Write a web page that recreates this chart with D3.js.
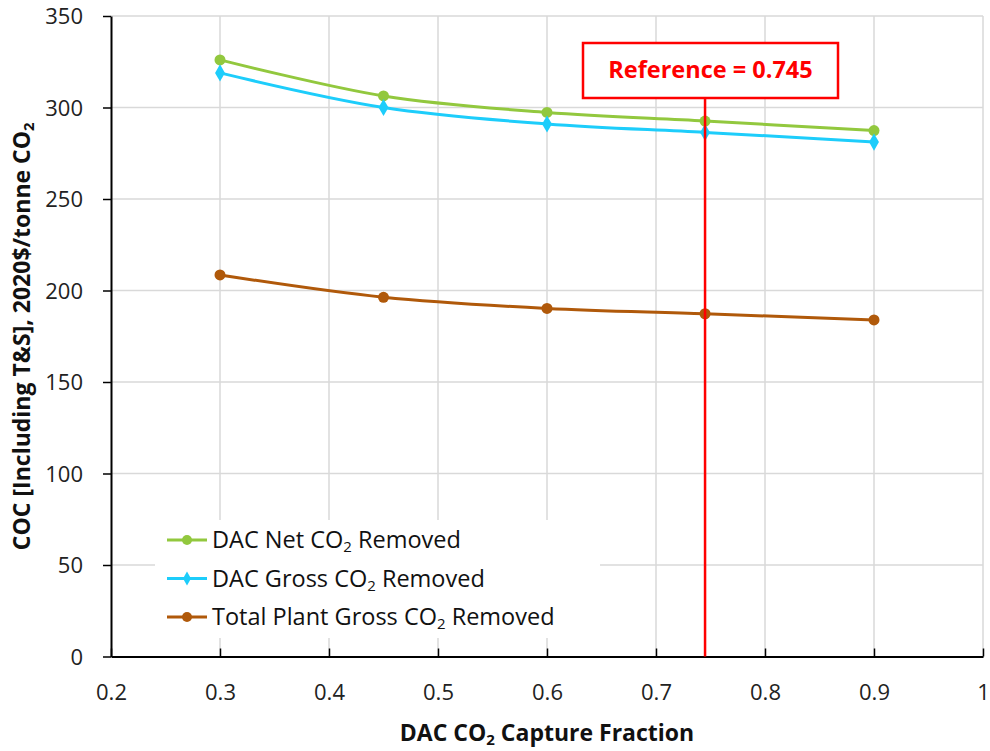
<!DOCTYPE html>
<html>
<head>
    <meta charset="utf-8">
    <script src="https://d3js.org/d3.v7.min.js"></script>
    <style>
        body { margin: 0; background: white; }
        text { font-family: "Open Sans", "Noto Sans", sans-serif; }
    </style>
</head>
<body>
    <svg id="svg" width="990" height="751"></svg>
    <script>
        // data
        var fractions = [0.3, 0.45, 0.6, 0.745, 0.9];
        var netRemoved = [326, 306.3, 297.3, 292.6, 287.4];
        var grossRemoved = [318.9, 300, 291, 286.4, 281.1];
        var plantRemoved = [208.5, 196.3, 190.2, 187.3, 183.9];
        var xTicks = [0.2, 0.3, 0.4, 0.5, 0.6, 0.7, 0.8, 0.9, 1];
        var yTicks = [0, 50, 100, 150, 200, 250, 300, 350];
        var referenceValue = 0.745;

        var series = [
            { name: "DAC Net ", tail: " Removed", values: netRemoved, color: "#92c83e", marker: "circle" },
            { name: "DAC Gross ", tail: " Removed", values: grossRemoved, color: "#1dcdfb", marker: "diamond" },
            { name: "Total Plant Gross ", tail: " Removed", values: plantRemoved, color: "#b0590a", marker: "circle" }
        ];

        var svg = d3.select("#svg"),
            pLeft = 111, pRight = 983, pTop = 16, pBottom = 656.5;

        var x = d3.scaleLinear().domain([0.2, 1]).range([pLeft, pRight]);
        var y = d3.scaleLinear().domain([0, 350]).range([pBottom, pTop]);

        var g = svg.append("g");

        // grid
        g.selectAll(".vgrid").data(xTicks.slice(1)).enter().append("line")
            .attr("x1", d => x(d)).attr("x2", d => x(d)).attr("y1", pTop).attr("y2", pBottom)
            .attr("stroke", "#d9d9d9").attr("stroke-width", 1.5);
        g.selectAll(".hgrid").data(yTicks.slice(1)).enter().append("line")
            .attr("x1", pLeft).attr("x2", pRight).attr("y1", d => y(d)).attr("y2", d => y(d))
            .attr("stroke", "#d9d9d9").attr("stroke-width", 1.5);

        // axes
        var xAxis = g.append("g").attr("transform", "translate(0," + pBottom + ")")
            .call(d3.axisBottom(x).tickValues(xTicks).tickSizeInner(-8).tickSizeOuter(0).tickPadding(28).tickFormat(d3.format("")));
        var yAxis = g.append("g").attr("transform", "translate(" + pLeft + ",0)")
            .call(d3.axisLeft(y).tickValues(yTicks).tickSizeInner(8).tickSizeOuter(0).tickPadding(20));
        [xAxis, yAxis].forEach(function (a) {
            a.select(".domain").attr("stroke", "#000").attr("stroke-width", 2);
            a.selectAll(".tick line").attr("stroke", "#000").attr("stroke-width", 1.5);
            a.selectAll(".tick text").attr("font-size", 22).attr("fill", "#222")
                .style("font-family", "'Open Sans', sans-serif");
        });
        yAxis.selectAll(".tick text").attr("dy", "0.35em");

        // lines
        var line = d3.line().x((d, i) => x(fractions[i])).y(d => y(d)).curve(d3.curveCatmullRom.alpha(0.5));
        var diamond = d3.symbol().type(d3.symbolDiamond).size(85);

        series.forEach(function (s) {
            g.append("path").attr("d", line(s.values)).attr("fill", "none")
                .attr("stroke", s.color).attr("stroke-width", 3);
            if (s.marker == "circle") {
                g.selectAll(null).data(s.values).enter().append("circle")
                    .attr("cx", (d, i) => x(fractions[i])).attr("cy", d => y(d)).attr("r", 5.5).attr("fill", s.color);
            } else {
                g.selectAll(null).data(s.values).enter().append("path")
                    .attr("d", diamond)
                    .attr("transform", (d, i) => "translate(" + x(fractions[i]) + "," + y(d) + ")")
                    .attr("fill", s.color);
            }
        });

        // reference line and box
        var refX = x(referenceValue);
        g.append("line").attr("x1", refX).attr("x2", refX).attr("y1", 98).attr("y2", pBottom)
            .attr("stroke", "#ff0000").attr("stroke-width", 2.5);
        g.append("rect").attr("x", 583).attr("y", 43).attr("width", 255).attr("height", 55)
            .attr("fill", "white").attr("stroke", "#ff0000").attr("stroke-width", 2.5);
        g.append("text").attr("x", 710.5).attr("y", 78).attr("text-anchor", "middle")
            .attr("font-size", 23.5).attr("font-weight", "bold").attr("fill", "#ff0000")
            .text("Reference = " + referenceValue);

        // legend
        g.append("rect").attr("x", 155).attr("y", 520).attr("width", 445).attr("height", 118).attr("fill", "white");
        series.forEach(function (s, i) {
            var ly = 540 + i * 38.5;
            g.append("line").attr("x1", 167).attr("x2", 207).attr("y1", ly).attr("y2", ly)
                .attr("stroke", s.color).attr("stroke-width", 3);
            if (s.marker == "circle") {
                g.append("circle").attr("cx", 187).attr("cy", ly).attr("r", 5).attr("fill", s.color);
            } else {
                g.append("path").attr("d", d3.symbol().type(d3.symbolDiamond).size(55))
                    .attr("transform", "translate(187," + ly + ")").attr("fill", s.color);
            }
            var t = g.append("text").attr("x", 212).attr("y", ly + 8).attr("font-size", 23.5).attr("fill", "#111");
            t.append("tspan").text(s.name + "CO");
            t.append("tspan").attr("font-size", 15).attr("dy", 4).text("2");
            t.append("tspan").attr("dy", -4).text(s.tail);
        });

        // axis titles
        var xt = g.append("text").attr("x", 547).attr("y", 741).attr("text-anchor", "middle")
            .attr("font-size", 23).attr("font-weight", "bold").attr("fill", "#111");
        xt.append("tspan").text("DAC CO");
        xt.append("tspan").attr("font-size", 15).attr("dy", 4).text("2");
        xt.append("tspan").attr("dy", -4).text(" Capture Fraction");

        var yt = g.append("text").attr("transform", "translate(30," + (pTop + pBottom) / 2 + ") rotate(-90)")
            .attr("text-anchor", "middle").attr("font-size", 23).attr("font-weight", "bold").attr("fill", "#111");
        yt.append("tspan").text("COC [Including T&S], 2020$/tonne CO");
        yt.append("tspan").attr("font-size", 15).attr("dy", 4).text("2");
    </script>
</body>
</html>
